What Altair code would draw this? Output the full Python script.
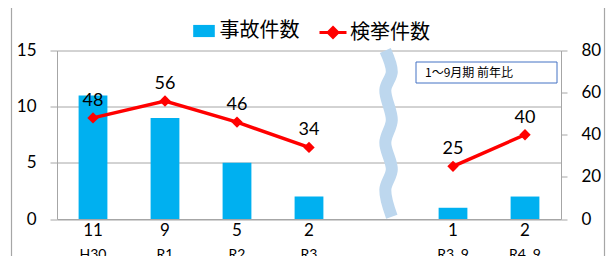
import altair as alt
import pandas as pd

# ---- data ----
categories = ["H30", "R1", "R2", "R3", " ", "R3..9", "R4. 9"]
period_labels = ["H30", "R1", "R2", "R3", "", "R3..9", "R4. 9"]
accidents = [11, 9, 5, 2, None, 1, 2]          # 事故件数 (left axis)
arrests = [48, 56, 46, 34, None, 25, 40]        # 検挙件数 (right axis)
segments = ["a", "a", "a", "a", None, "b", "b"]
tick_labels = ["11", "9", "5", "2", "", "1", "2"]

# decorative break mark ("wave") between R3 and R3..9, in slot units / left-axis units
wave_x = [4.56, 4.65, 4.56, 4.65, 4.56, 4.65, 4.56, 4.65]
wave_y = [15.0, 13.1, 11.5, 8.8, 6.8, 4.4, 2.6, 0.2]

note_text = "1～9月期 前年比"

BLUE = "#00B0F0"
RED = "#FF0000"
GRAY = "#A6A6A6"
JP = "Noto Sans CJK JP"
NUM = "Lato"

W, H = 504, 168.5

df = pd.DataFrame({
    "cat": categories,
    "period": period_labels,
    "accidents": accidents,
    "arrests": arrests,
    "seg": segments,
})
wave_df = pd.DataFrame({"wx": wave_x, "wy": wave_y, "i": list(range(len(wave_x)))})
one = alt.Data(values=[{"k": 1}])

xscale = alt.Scale(domain=categories, paddingInner=0.6, paddingOuter=0.3)
yl = alt.Scale(domain=[0, 15])
yr = alt.Scale(domain=[0, 80])

label_expr = " : ".join(
    f"datum.value === '{c}' ? '{t}'" for c, t in zip(categories, tick_labels)
) + " : ''"

blue_path = "M-0.8,-0.45H0.8V0.45H-0.8Z"
red_path = "M-1,0H1M0,-0.36L0.36,0L0,0.36L-0.36,0Z"

common_legend = dict(
    title=None, orient="none", direction="horizontal",
    labelFont=JP, labelFontSize=20, labelColor="#000", labelOffset=2,
    symbolSize=729, padding=0,
)
legend_bar = alt.Legend(legendX=133.5, legendY=-33, symbolType=blue_path,
                        symbolStrokeWidth=0, symbolOpacity=1, **common_legend)
legend_line = alt.Legend(legendX=261, legendY=-33, symbolType=red_path,
                         symbolFillColor=RED, symbolStrokeColor=RED,
                         symbolStrokeWidth=3, symbolOpacity=1, **common_legend)

base = alt.Chart(df)

bars = base.transform_filter("datum.accidents != null").transform_calculate(
    series="'事故件数'"
).mark_bar().encode(
    x=alt.X("cat:N", scale=xscale, sort=categories, title=None,
            axis=alt.Axis(labelExpr=label_expr, labelAngle=0, ticks=False,
                          labelPadding=3, domainColor=GRAY, labelFont=NUM,
                          labelFontSize=17, labelColor="#000")),
    y=alt.Y("accidents:Q", scale=yl, title=None,
            axis=alt.Axis(orient="left", values=[0, 5, 10, 15], grid=True,
                          gridColor=GRAY, domainColor=GRAY, tickColor=GRAY,
                          tickSize=7, labelPadding=14, labelFont=NUM,
                          labelFontSize=17, labelColor="#000")),
    fill=alt.Fill("series:N", scale=alt.Scale(domain=["事故件数"], range=[BLUE]),
                  legend=legend_bar),
)

periods = base.mark_text(font=NUM, fontSize=14, baseline="top", color="#000").encode(
    x=alt.X("cat:N", scale=xscale, sort=categories, axis=None),
    y=alt.value(H + 29),
    text="period:N",
)

wave = alt.Chart(wave_df).mark_line(
    color="#BDD7EE", strokeWidth=12, interpolate="catmull-rom", strokeCap="butt"
).encode(
    x=alt.X("wx:Q", scale=alt.Scale(domain=[0, 7]), axis=None),
    y=alt.Y("wy:Q", scale=yl, axis=None),
    order="i:Q",
)

line_base = base.transform_filter("datum.arrests != null")

line = line_base.transform_calculate(series="'検挙件数'").mark_line(
    strokeWidth=3.5
).encode(
    x=alt.X("cat:N", scale=xscale, sort=categories, axis=None),
    y=alt.Y("arrests:Q", scale=yr, title=None,
            axis=alt.Axis(orient="right", values=[0, 20, 40, 60, 80], grid=False,
                          domainColor=GRAY, tickColor=GRAY, tickSize=6,
                          labelPadding=14, labelFont=NUM, labelFontSize=17,
                          labelColor="#000")),
    stroke=alt.Stroke("series:N", scale=alt.Scale(domain=["検挙件数"], range=[RED]),
                      legend=legend_line),
    detail="seg:N",
)

points = line_base.mark_point(shape="diamond", filled=True, size=130, color=RED, opacity=1).encode(
    x=alt.X("cat:N", scale=xscale, sort=categories, axis=None),
    y=alt.Y("arrests:Q", scale=yr, axis=None),
)

labels = line_base.mark_text(font=NUM, fontSize=18, dy=-17, baseline="middle", color="#000").encode(
    x=alt.X("cat:N", scale=xscale, sort=categories, axis=None),
    y=alt.Y("arrests:Q", scale=yr, axis=None),
    text="arrests:Q",
)

note_box = alt.Chart(one).mark_rect(fill="white", stroke="#4472C4", strokeWidth=1).encode(
    x=alt.value(359), x2=alt.value(500), y=alt.value(11.5), y2=alt.value(32.5)
)
note = alt.Chart(one).mark_text(
    text=note_text, font=JP, fontSize=12, align="left", baseline="middle", color="#000"
).encode(x=alt.value(368), y=alt.value(22.5))

frame_l = alt.Chart(one).mark_rule(color=GRAY, strokeWidth=1.2).encode(
    x=alt.value(-45.5), y=alt.value(-43), y2=alt.value(H + 40)
)
frame_r = alt.Chart(one).mark_rule(color=GRAY, strokeWidth=1.2).encode(
    x=alt.value(547.5), y=alt.value(-43), y2=alt.value(H + 40)
)

chart = alt.layer(
    frame_l, frame_r, bars, wave, periods, line, points, labels, note_box, note
).resolve_scale(
    x="independent", y="independent"
).properties(
    width=W, height=H,
    autosize=alt.AutoSizeParams(type="none"),
    padding={"left": 49, "top": 42.5, "right": 46, "bottom": 37},
).configure_view(strokeWidth=0)

chart.save("out.html", embed_options={"renderer": "svg", "actions": False})
